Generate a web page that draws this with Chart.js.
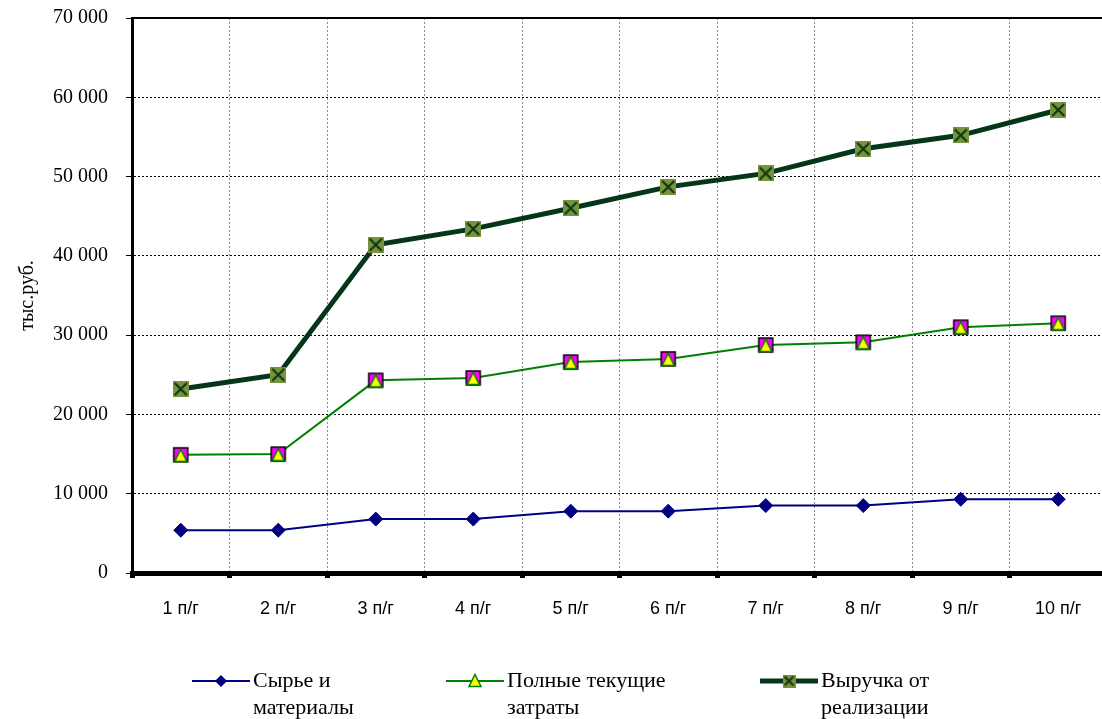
<!DOCTYPE html>
<html lang="ru">
<head>
    <meta charset="UTF-8">
    <title>Выручка и затраты</title>
    <script src="https://cdn.jsdelivr.net/npm/chart.js"></script>
    <style>
        html, body { margin: 0; padding: 0; background: #fff; overflow: hidden; }
        #wrap { width: 1116px; height: 719px; }
    </style>
</head>
<body>
    <div id="wrap">
        <canvas id="mainChart" width="1116" height="719"></canvas>
    </div>

    <script>
        // periods (полугодия)
        const periods = ['1 п/г', '2 п/г', '3 п/г', '4 п/г', '5 п/г', '6 п/г', '7 п/г', '8 п/г', '9 п/г', '10 п/г'];

        const rawMaterials = [5400, 5400, 6800, 6800, 7800, 7800, 8500, 8500, 9300, 9300];
        const totalCosts   = [14900, 15000, 24300, 24600, 26600, 27000, 28750, 29100, 31000, 31500];
        const revenue      = [23200, 25000, 41400, 43400, 46000, 48700, 50400, 53500, 55200, 58400];

        const seriesNames = [['Сырье и', 'материалы'], ['Полные текущие', 'затраты'], ['Выручка от', 'реализации']];
        const yTicks = [0, 10000, 20000, 30000, 40000, 50000, 60000, 70000];

        // marker images
        function costMarker(withSquare) {
            const c = document.createElement('canvas');
            c.width = 18; c.height = 18;
            const g = c.getContext('2d');
            if (withSquare) {
                g.fillStyle = '#ff00ff';
                g.strokeStyle = '#000';
                g.lineWidth = 1.5;
                g.fillRect(2, 2, 14, 14);
                g.strokeRect(2, 2, 14, 14);
            }
            g.beginPath();
            g.moveTo(9, 3.5);
            g.lineTo(15, 15.5);
            g.lineTo(3, 15.5);
            g.closePath();
            g.fillStyle = '#ffff00';
            g.fill();
            g.strokeStyle = '#008000';
            g.lineWidth = 1.5;
            g.stroke();
            return c;
        }

        function revenueMarker(size) {
            const c = document.createElement('canvas');
            c.width = size; c.height = size;
            const g = c.getContext('2d');
            g.fillStyle = '#77933c';
            g.fillRect(0, 0, size, size);
            g.strokeStyle = '#0b3512';
            g.lineWidth = 2;
            g.beginPath();
            g.moveTo(2, 2); g.lineTo(size - 2, size - 2);
            g.moveTo(size - 2, 2); g.lineTo(2, size - 2);
            g.stroke();
            return c;
        }

        const costPoint = costMarker(true);
        const costLegend = costMarker(false);
        const revPoint = revenueMarker(16);
        const revLegend = revenueMarker(13);

        const fmt = v => String(v).replace(/\B(?=(\d{3})+(?!\d))/g, ' ');

        // legend drawn on the canvas, wrapped in two lines
        const legendX = [192, 446, 760];
        const legendPlugin = {
            id: 'twoLineLegend',
            afterDraw(chart) {
                const ctx = chart.ctx;
                ctx.save();
                // top border of plot
                const a = chart.chartArea;
                ctx.strokeStyle = '#000';
                ctx.lineWidth = 2;
                ctx.beginPath();
                ctx.moveTo(a.left, a.top);
                ctx.lineTo(a.right, a.top);
                ctx.stroke();

                ctx.font = '22px "Liberation Serif", "Times New Roman", serif';
                ctx.textBaseline = 'middle';
                ctx.textAlign = 'left';
                const y1 = 681, y2 = 708;
                chart.data.datasets.forEach((ds, i) => {
                    const x = legendX[i];
                    const lines = seriesNames[i];
                    ctx.strokeStyle = ds.borderColor;
                    ctx.lineWidth = ds.borderWidth;
                    ctx.beginPath();
                    ctx.moveTo(x, y1);
                    ctx.lineTo(x + 58, y1);
                    ctx.stroke();
                    const mx = x + 29;
                    if (i === 0) {
                        ctx.fillStyle = ds.pointBackgroundColor;
                        ctx.beginPath();
                        ctx.moveTo(mx, y1 - 6);
                        ctx.lineTo(mx + 6, y1);
                        ctx.lineTo(mx, y1 + 6);
                        ctx.lineTo(mx - 6, y1);
                        ctx.closePath();
                        ctx.fill();
                    } else if (i === 1) {
                        ctx.drawImage(costLegend, mx - 9, y1 - 10);
                    } else {
                        ctx.drawImage(revLegend, mx - 6.5, y1 - 6.5);
                    }
                    ctx.fillStyle = '#000';
                    const tx = x + 61;
                    ctx.fillText(lines[0], tx, y1);
                    ctx.fillText(lines[1], tx, y2);
                });
                ctx.restore();
            }
        };

        const ctx = document.getElementById('mainChart').getContext('2d');
        new Chart(ctx, {
            type: 'line',
            data: {
                labels: periods,
                datasets: [
                    {
                        label: seriesNames[0].join(' '),
                        data: rawMaterials,
                        borderColor: '#000080',
                        borderWidth: 2,
                        pointStyle: 'rectRot',
                        pointRadius: 7,
                        pointBackgroundColor: '#000080',
                        pointBorderColor: '#000080',
                        pointBorderWidth: 1,
                        tension: 0
                    },
                    {
                        label: seriesNames[1].join(' '),
                        data: totalCosts,
                        borderColor: '#008000',
                        borderWidth: 2,
                        pointStyle: costPoint,
                        pointBackgroundColor: '#ffff00',
                        tension: 0
                    },
                    {
                        label: seriesNames[2].join(' '),
                        data: revenue,
                        borderColor: '#04371a',
                        borderWidth: 5,
                        pointStyle: revPoint,
                        pointBackgroundColor: '#77933c',
                        tension: 0
                    }
                ]
            },
            options: {
                responsive: false,
                animation: false,
                devicePixelRatio: 1,
                layout: { padding: { left: 0, top: 18, right: 2, bottom: 0 } },
                plugins: {
                    legend: { display: false },
                    tooltip: { enabled: false }
                },
                scales: {
                    x: {
                        offset: true,
                        grid: {
                            offset: true,
                            color: '#8c8c8c',
                            tickBorderDash: [],
                            tickColor: '#000',
                            tickLength: 5,
                            tickWidth: 5
                        },
                        border: { color: '#000', width: 5, dash: [2, 2] },
                        ticks: {
                            color: '#000',
                            padding: 20,
                            maxRotation: 0,
                            font: { family: '"Liberation Sans", Arial, sans-serif', size: 18 }
                        },
                        afterFit(scale) { scale.height = 146; }
                    },
                    y: {
                        min: 0,
                        max: 70000,
                        afterBuildTicks(scale) { scale.ticks = yTicks.map(v => ({ value: v })); },
                        grid: {
                            color: '#000',
                            tickBorderDash: [],
                            tickColor: '#000',
                            tickLength: 6,
                            tickWidth: 1
                        },
                        border: { color: '#000', width: 3, dash: [2, 2] },
                        ticks: {
                            color: '#000',
                            padding: 18,
                            callback: v => fmt(v),
                            font: { family: '"Liberation Serif", "Times New Roman", serif', size: 20 }
                        },
                        title: {
                            display: true,
                            text: 'тыс.руб.',
                            color: '#000',
                            padding: { top: 16, bottom: 0 },
                            font: { family: '"Liberation Serif", "Times New Roman", serif', size: 20 }
                        },
                        afterFit(scale) {
                            scale.width = 132;
                            scale.paddingTop = 0;
                            scale.paddingBottom = 0;
                        }
                    }
                }
            },
            plugins: [legendPlugin]
        });
    </script>
</body>
</html>
